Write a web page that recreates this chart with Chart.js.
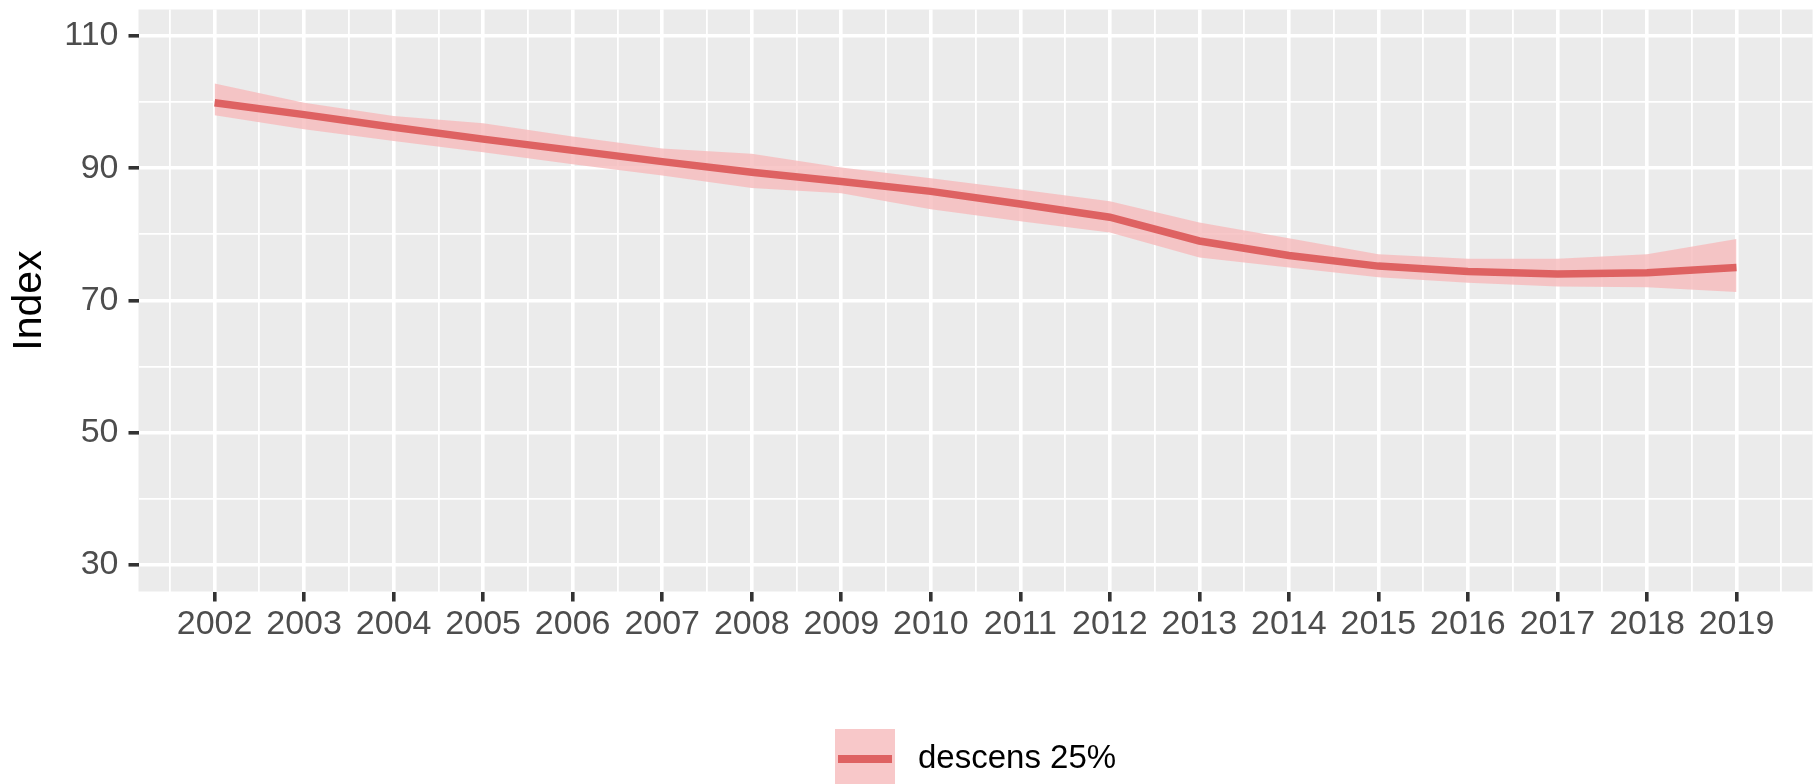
<!DOCTYPE html>
<html>
<head>
<meta charset="utf-8">
<script src="https://cdn.jsdelivr.net/npm/chart.js@4/dist/chart.umd.min.js"></script>
<style>
  html, body { margin: 0; padding: 0; background: #fff; }
  canvas { display: block; }
</style>
</head>
<body>
<canvas id="chart" width="1819" height="784"></canvas>
<script>
// ── DATA ───────────────────────────────────────────────────────
const years = [2002, 2003, 2004, 2005, 2006, 2007, 2008, 2009, 2010,
               2011, 2012, 2013, 2014, 2015, 2016, 2017, 2018, 2019];
const indexLine = [99.9, 98.1, 96.2, 94.4, 92.7, 91.0, 89.4, 88.0, 86.5,
                   84.6, 82.6, 79.0, 76.8, 75.2, 74.4, 74.0, 74.2, 75.0];
const bandUpper = [102.8, 99.9, 97.9, 96.8, 94.8, 93.0, 92.2, 90.1, 88.5,
                   86.8, 85.0, 81.8, 79.4, 77.0, 76.3, 76.3, 77.0, 79.3];
const bandLower = [98.0, 95.9, 94.1, 92.4, 90.6, 88.9, 87.0, 86.2, 83.8,
                   82.0, 80.3, 76.5, 75.0, 73.5, 72.7, 72.1, 72.0, 71.3];
const yMajorTicks = [30, 50, 70, 90, 110];
const yMinorTicks = [40, 60, 80, 100];
const seriesLabel = 'descens 25%';

// ── STYLE ──────────────────────────────────────────────────────
const lineColor = '#DE6262';
const bandColor = 'rgba(246,186,188,0.8)';
const panelBg = '#EBEBEB';
const tickText = '#4D4D4D';
const tickMark = '#333333';

Chart.defaults.font.family = '"Liberation Sans", Arial, sans-serif';

const pts = arr => years.map((y, i) => ({ x: y, y: arr[i] }));
const isMajorX = v => Number.isInteger(v);
const isMajorY = v => yMajorTicks.includes(v);

const panelPlugin = {
  id: 'panel',
  beforeDraw(chart) {
    const { ctx, chartArea: a } = chart;
    ctx.save();
    ctx.fillStyle = '#fff';
    ctx.fillRect(0, 0, chart.width, chart.height);
    ctx.fillStyle = panelBg;
    ctx.fillRect(a.left, a.top, a.right - a.left, a.bottom - a.top);
    ctx.restore();
  }
};

// ggplot-style key: ribbon box with line through it
const keyPlugin = {
  id: 'key',
  afterDraw(chart) {
    const ctx = chart.ctx;
    const bx = 835, by = 729, bw = 60, bh = 55;
    ctx.save();
    ctx.fillStyle = bandColor;
    ctx.fillRect(bx, by, bw, bh);
    ctx.strokeStyle = lineColor;
    ctx.lineWidth = 8;
    ctx.beginPath();
    ctx.moveTo(bx + 3, by + 30);
    ctx.lineTo(bx + bw - 3, by + 30);
    ctx.stroke();
    ctx.fillStyle = '#000';
    ctx.font = '33px "Liberation Sans", Arial, sans-serif';
    ctx.textBaseline = 'middle';
    ctx.fillText(seriesLabel, 918, by + 30);
    ctx.restore();
  }
};

new Chart(document.getElementById('chart'), {
  type: 'line',
  data: {
    datasets: [
      {
        label: 'upper',
        data: pts(bandUpper),
        borderWidth: 0,
        pointRadius: 0,
        backgroundColor: bandColor,
        fill: '+1',
        order: 2,
      },
      {
        label: 'lower',
        data: pts(bandLower),
        borderWidth: 0,
        pointRadius: 0,
        fill: false,
        order: 2,
      },
      {
        label: seriesLabel,
        data: pts(indexLine),
        borderColor: lineColor,
        borderWidth: 7.5,
        pointRadius: 0,
        tension: 0,
        fill: false,
        order: 0,
      },
    ],
  },
  options: {
    responsive: false,
    animation: false,
    layout: { padding: { top: 9.5, right: 6.4, left: 0, bottom: 0 } },
    plugins: {
      legend: { display: false },
      tooltip: { enabled: false },
    },
    scales: {
      x: {
        type: 'linear',
        min: years[0] - 0.85,
        max: years[years.length - 1] + 0.85,
        afterBuildTicks: scale => {
          const t = [];
          years.forEach(y => { t.push({ value: y - 0.5 }); t.push({ value: y }); });
          t.push({ value: years[years.length - 1] + 0.5 });
          scale.ticks = t;
        },
        afterFit: scale => {
          scale.height = 192.5;
          scale.paddingLeft = 0;
          scale.paddingRight = 0;
        },
        border: { display: false },
        grid: {
          color: '#fff',
          lineWidth: ctx => isMajorX(ctx.tick.value) ? 3.6 : 1.8,
          tickLength: 10,
          tickColor: ctx => isMajorX(ctx.tick.value) ? tickMark : 'rgba(0,0,0,0)',
          tickWidth: 3.6,
        },
        ticks: {
          autoSkip: false,
          maxRotation: 0,
          padding: 3,
          color: tickText,
          font: { size: 34 },
          callback: v => isMajorX(v) ? String(v) : '',
        },
      },
      y: {
        type: 'linear',
        min: 26,
        max: 114,
        afterBuildTicks: scale => {
          scale.ticks = [...yMajorTicks, ...yMinorTicks].sort((a, b) => a - b).map(v => ({ value: v }));
        },
        afterFit: scale => {
          scale.width = 138.5;
          scale.paddingTop = 0;
          scale.paddingBottom = 0;
        },
        border: { display: false },
        grid: {
          color: '#fff',
          lineWidth: ctx => isMajorY(ctx.tick.value) ? 3.6 : 1.8,
          tickLength: 10,
          tickColor: ctx => isMajorY(ctx.tick.value) ? tickMark : 'rgba(0,0,0,0)',
          tickWidth: 3.6,
        },
        ticks: {
          padding: 10,
          color: tickText,
          font: { size: 34 },
          callback: v => isMajorY(v) ? String(v) : '',
        },
        title: {
          display: true,
          text: 'Index',
          color: '#000',
          font: { size: 41 },
          padding: { top: 5, bottom: 0 },
        },
      },
    },
  },
  plugins: [panelPlugin, keyPlugin],
});
</script>
</body>
</html>
